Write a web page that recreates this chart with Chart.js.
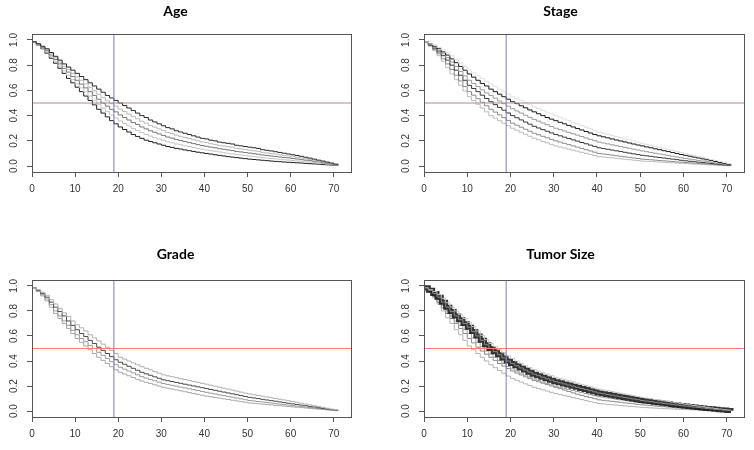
<!DOCTYPE html>
<html>
<head>
<meta charset="utf-8">
<script src="https://cdn.jsdelivr.net/npm/chart.js@4.4.0/dist/chart.umd.min.js"></script>
<style>
  body { margin: 0; background: #fff; }
  #wrap { position: relative; width: 754px; height: 450px; }
  canvas { position: absolute; }
</style>
</head>
<body>
<div id="wrap">
  <canvas id="chartAge" width="377" height="225" style="left:0;top:0;width:377px;height:225px"></canvas>
  <canvas id="chartStage" width="377" height="225" style="left:377px;top:0;width:377px;height:225px"></canvas>
  <canvas id="chartGrade" width="377" height="225" style="left:0;top:225px;width:377px;height:225px"></canvas>
  <canvas id="chartTumor" width="377" height="225" style="left:377px;top:225px;width:377px;height:225px"></canvas>
</div>
<script>
// time points (step positions) and axis ticks
var times = [0,1,2,3,4,5,6,7,8,9,10,11,12,13,14,15,16,17,18,19,20,21,22,23,24,25,26,27,28,29,30,31,32,33,34,35,
  36,37,38,39,40,41,42,43,44,45,46,47,48,49,50,51,52,53,54,55,56,57,58,59,60,61,62,63,64,65,66,67,68,69,70,71];
var xTicks = [0, 10, 20, 30, 40, 50, 60, 70];
var yTicks = [0, 0.2, 0.4, 0.6, 0.8, 1.0];
var medianLevel = 0.5;
var markTime = 19;

// Age
var age1 = [.985,.97,.95,.93,.90,.87,.84,.81,.785,.76,.735,.71,.685,.66,.635,.61,.585,.56,.54,.52,
  .50,.48,.46,.44,.42,.40,.385,.365,.35,.335,.32,.305,.295,.28,.27,.26,.25,.24,.23,.22,
  .215,.205,.20,.19,.185,.18,.175,.165,.16,.155,.15,.145,.14,.13,.125,.12,.114,.108,.102,.096,
  .09,.084,.077,.07,.063,.055,.047,.04,.032,.024,.015,.01];
var age2 = [.985,.967,.945,.922,.89,.857,.825,.792,.765,.735,.707,.68,.652,.625,.597,.57,.542,.517,.495,.475,
  .452,.432,.412,.392,.375,.355,.34,.322,.309,.295,.281,.267,.258,.245,.236,.227,.218,.209,.20,.191,
  .186,.177,.172,.164,.159,.154,.149,.14,.136,.131,.126,.121,.117,.109,.104,.10,.095,.09,.085,.08,
  .075,.07,.064,.058,.053,.047,.04,.034,.027,.02,.013,.008];
var age3 = [.985,.965,.94,.915,.88,.845,.81,.775,.745,.71,.68,.65,.62,.59,.56,.53,.50,.475,.45,.43,
  .405,.385,.365,.345,.33,.31,.295,.28,.268,.255,.243,.23,.222,.21,.203,.194,.186,.178,.17,.163,
  .157,.15,.145,.138,.133,.128,.123,.116,.112,.107,.103,.098,.094,.088,.084,.08,.076,.072,.068,.065,
  .06,.056,.051,.047,.043,.038,.033,.027,.022,.016,.01,.007];
var age4 = [.985,.962,.935,.905,.868,.83,.792,.755,.72,.685,.652,.62,.588,.555,.522,.49,.46,.432,.405,.382,
  .358,.338,.318,.298,.282,.265,.25,.238,.226,.215,.204,.192,.185,.175,.169,.161,.154,.147,.14,.134,
  .128,.122,.118,.112,.106,.101,.097,.092,.088,.083,.079,.075,.072,.067,.064,.06,.057,.054,.05,.048,
  .044,.041,.038,.034,.031,.028,.024,.02,.016,.012,.008,.006];
var age5 = [.985,.96,.93,.895,.855,.815,.775,.735,.695,.66,.625,.59,.555,.52,.485,.45,.42,.39,.36,.335,
  .31,.29,.27,.25,.235,.22,.205,.195,.185,.175,.165,.155,.148,.14,.135,.128,.122,.116,.11,.105,
  .10,.095,.09,.085,.08,.075,.071,.067,.063,.059,.055,.052,.049,.046,.043,.04,.037,.035,.032,.03,
  .028,.026,.024,.021,.019,.017,.015,.012,.01,.008,.006,.004];

// Stage
var stage0 = [.985,.975,.96,.94,.92,.90,.875,.845,.815,.79,.76,.738,.716,.694,.672,.65,.63,.61,.59,.57,
  .55,.534,.518,.502,.486,.47,.456,.442,.428,.414,.40,.387,.374,.361,.348,.335,.322,.309,.296,.283,
  .27,.261,.252,.243,.234,.225,.216,.207,.198,.189,.18,.172,.164,.156,.148,.14,.132,.124,.116,.108,
  .10,.092,.084,.076,.068,.06,.052,.044,.036,.028,.02,.012];
var stage1 = [.985,.97,.95,.93,.905,.88,.85,.82,.79,.76,.73,.705,.68,.655,.635,.61,.59,.57,.55,.53,
  .51,.495,.478,.462,.445,.43,.415,.40,.385,.372,.36,.347,.335,.322,.31,.298,.286,.274,.262,.25,
  .24,.232,.224,.215,.207,.199,.191,.183,.175,.167,.16,.152,.145,.137,.13,.122,.115,.107,.10,.092,
  .085,.078,.071,.064,.057,.05,.043,.036,.029,.022,.015,.01];
var stage2 = [.985,.965,.94,.915,.89,.86,.825,.79,.75,.715,.68,.655,.63,.605,.58,.56,.538,.516,.495,.475,
  .455,.437,.42,.403,.386,.37,.356,.342,.328,.314,.30,.289,.278,.267,.256,.245,.234,.223,.212,.201,
  .19,.183,.176,.169,.162,.155,.148,.141,.134,.127,.12,.114,.108,.102,.096,.09,.084,.078,.072,.066,
  .06,.055,.05,.045,.04,.035,.03,.025,.02,.015,.01,.007];
var stage3 = [.985,.96,.935,.905,.875,.84,.80,.76,.72,.68,.64,.615,.59,.562,.536,.51,.487,.465,.443,.421,
  .40,.383,.366,.349,.332,.315,.302,.289,.276,.263,.25,.24,.229,.219,.208,.198,.187,.177,.166,.156,
  .145,.139,.133,.127,.121,.115,.109,.103,.097,.091,.085,.081,.077,.072,.068,.064,.059,.055,.051,.046,
  .042,.038,.035,.031,.028,.024,.021,.017,.014,.01,.007,.005];
var stage4 = [.985,.955,.925,.89,.85,.81,.765,.72,.675,.63,.59,.562,.534,.506,.478,.45,.428,.406,.384,.362,
  .34,.324,.308,.292,.276,.26,.248,.236,.224,.212,.20,.19,.18,.17,.16,.15,.14,.13,.12,.11,
  .10,.096,.091,.087,.082,.078,.073,.069,.064,.06,.055,.052,.05,.047,.044,.042,.039,.036,.033,.031,
  .028,.026,.023,.021,.018,.016,.013,.011,.009,.006,.004,.003];
var stage5 = [.985,.95,.915,.875,.83,.78,.73,.685,.64,.595,.55,.52,.49,.46,.43,.40,.38,.36,.34,.32,
  .30,.284,.268,.252,.236,.22,.208,.196,.184,.172,.16,.151,.143,.134,.126,.118,.109,.101,.092,.084,
  .075,.072,.068,.065,.061,.058,.054,.051,.047,.044,.04,.038,.036,.034,.032,.03,.028,.026,.024,.022,
  .02,.018,.016,.015,.013,.011,.01,.008,.006,.005,.003,.002];

// Grade
var grade1 = [.985,.97,.95,.925,.89,.855,.82,.785,.755,.72,.69,.665,.64,.61,.585,.56,.535,.51,.485,.46,
  .43,.415,.40,.385,.37,.355,.342,.329,.316,.303,.29,.282,.275,.267,.259,.252,.245,.237,.23,.222,
  .215,.207,.199,.191,.183,.176,.168,.16,.152,.144,.137,.131,.125,.119,.113,.107,.101,.095,.089,.083,
  .077,.07,.063,.056,.05,.043,.036,.03,.023,.016,.01,.006];
var grade2 = [.985,.965,.94,.91,.87,.83,.795,.76,.72,.685,.65,.62,.595,.565,.54,.51,.485,.46,.435,.41,
  .39,.374,.358,.342,.326,.31,.298,.286,.274,.262,.25,.243,.236,.229,.222,.215,.208,.201,.194,.187,
  .18,.173,.166,.159,.152,.145,.138,.131,.124,.117,.11,.105,.10,.094,.089,.084,.079,.074,.068,.063,
  .058,.053,.048,.043,.038,.033,.027,.022,.017,.012,.007,.005];
var grade3 = [.985,.96,.93,.895,.85,.80,.76,.72,.685,.645,.61,.58,.555,.525,.50,.47,.445,.42,.395,.37,
  .35,.335,.32,.305,.29,.275,.264,.253,.242,.231,.22,.213,.206,.199,.192,.185,.178,.171,.164,.157,
  .15,.143,.137,.13,.124,.117,.111,.104,.098,.091,.085,.081,.077,.073,.069,.065,.06,.056,.052,.048,
  .044,.04,.036,.032,.028,.024,.021,.017,.013,.009,.005,.004];
var grade4 = [.985,.955,.92,.88,.83,.78,.74,.70,.66,.62,.58,.55,.52,.49,.46,.43,.405,.38,.355,.33,
  .31,.296,.282,.268,.254,.24,.23,.22,.21,.20,.19,.183,.176,.169,.162,.155,.148,.141,.134,.127,
  .12,.115,.109,.104,.098,.093,.087,.082,.076,.071,.065,.062,.059,.056,.053,.05,.046,.043,.04,.037,
  .034,.031,.028,.025,.022,.019,.016,.013,.01,.007,.004,.003];

// Tumor Size
var tumorTop = [.985,.97,.955,.93,.90,.865,.832,.80,.77,.74,.71,.675,.64,.605,.57,.54,.515,.49,.465,.44,
  .42,.40,.382,.365,.348,.332,.319,.307,.295,.283,.27,.26,.251,.242,.233,.223,.213,.204,.195,.185,
  .176,.169,.163,.156,.15,.143,.136,.13,.123,.117,.11,.104,.099,.093,.088,.082,.077,.071,.066,.06,
  .055,.05,.045,.04,.035,.03,.025,.02,.016,.012,.008,.005];
var tumorBand = [.985,.965,.94,.91,.87,.83,.795,.76,.73,.70,.67,.635,.60,.565,.53,.50,.475,.45,.425,.40,
  .38,.362,.345,.328,.311,.295,.283,.271,.259,.247,.235,.226,.217,.208,.199,.19,.181,.172,.163,.154,
  .145,.139,.133,.127,.121,.115,.109,.103,.097,.091,.085,.08,.076,.071,.067,.062,.058,.053,.049,.044,
  .04,.036,.032,.029,.025,.021,.018,.014,.011,.008,.005,.003];
var tumorMid = [.985,.955,.925,.89,.845,.80,.76,.72,.685,.65,.62,.585,.55,.515,.48,.455,.43,.405,.38,.357,
  .337,.32,.303,.287,.271,.256,.244,.232,.22,.209,.198,.19,.181,.173,.164,.156,.148,.14,.131,.123,
  .115,.11,.105,.10,.095,.09,.085,.08,.075,.07,.065,.061,.058,.054,.051,.047,.044,.04,.037,.034,
  .03,.027,.024,.021,.018,.015,.013,.01,.008,.006,.004,.002];
var tumorLow1 = [.985,.955,.915,.87,.825,.78,.74,.70,.66,.62,.58,.545,.51,.48,.455,.43,.405,.38,.36,.34,
  .32,.304,.289,.274,.259,.245,.234,.223,.212,.201,.19,.179,.168,.157,.146,.135,.126,.117,.108,.099,
  .09,.086,.082,.078,.074,.07,.066,.062,.058,.054,.05,.047,.044,.041,.038,.035,.032,.029,.026,.023,
  .02,.018,.016,.014,.012,.01,.009,.007,.006,.005,.003,.002];
var tumorLow2 = [.985,.95,.905,.855,.80,.745,.70,.65,.61,.565,.52,.49,.46,.43,.40,.37,.347,.324,.302,.28,
  .26,.246,.232,.218,.204,.19,.18,.17,.16,.15,.14,.132,.124,.116,.108,.10,.092,.084,.076,.068,
  .06,.057,.054,.051,.048,.045,.042,.039,.036,.033,.03,.028,.026,.024,.022,.02,.019,.017,.015,.014,
  .012,.011,.01,.009,.008,.007,.006,.005,.004,.003,.002,.002];

var panels = [
  { id: 'chartAge', title: 'Age', hColor: '#b08890', yWidth: 32, rightPad: 26, titleTop: 2.6, titleBottom: 14.6, xHeight: 53,
    curves: [
      { values: age1, color: '#2a2a2a' },
      { values: age2, color: '#b8b8b8' },
      { values: age3, color: '#777' },
      { values: age4, color: '#c4c4c4' },
      { values: age5, color: '#1e1e1e' }
    ] },
  { id: 'chartStage', title: 'Stage', hColor: '#b08890', yWidth: 47, rightPad: 10, titleTop: 2.6, titleBottom: 14.6, xHeight: 53,
    curves: [
      { values: stage0, color: '#e0e0e0' },
      { values: stage1, color: '#1a1a1a' },
      { values: stage2, color: '#9a9a9a' },
      { values: stage3, color: '#3a3a3a' },
      { values: stage4, color: '#8c8c8c' },
      { values: stage5, color: '#bcbcbc' }
    ] },
  { id: 'chartGrade', title: 'Grade', hColor: '#ff7a7a', yWidth: 32, rightPad: 26, titleTop: 20.6, titleBottom: 17.6, xHeight: 33,
    curves: [
      { values: grade1, color: '#b0b0b0' },
      { values: grade2, color: '#4a4a4a' },
      { values: grade3, color: '#9a9a9a' },
      { values: grade4, color: '#a8a8a8' }
    ] },
  { id: 'chartTumor', title: 'Tumor Size', hColor: '#ff7a7a', yWidth: 47, rightPad: 10, titleTop: 20.6, titleBottom: 17.6, xHeight: 33,
    curves: [
      { values: tumorBand, color: '#8a8a8a' },
      { values: tumorTop, color: '#c8c8c8' },
      { values: tumorBand, color: 'rgba(15,15,15,0.85)', width: 5 },
      { values: tumorMid, color: '#a0a0a0' },
      { values: tumorLow1, color: '#8a8a8a' },
      { values: tumorLow2, color: '#b4b4b4' }
    ] }
];

// box round the plot area, like R's box()
var boxPlugin = {
  id: 'plotBox',
  afterDraw: function(chart) {
    var a = chart.chartArea, ctx = chart.ctx;
    ctx.save();
    ctx.strokeStyle = '#555';
    ctx.lineWidth = 1;
    ctx.strokeRect(Math.round(a.left) + 0.5, Math.round(a.top) + 0.5, Math.round(a.right - a.left), Math.round(a.bottom - a.top));
    ctx.restore();
  }
};

function toPoints(values) {
  return values.map(function(v, i) { return { x: times[i], y: v }; });
}

function makePanel(p) {
  var datasets = [
    { data: [{ x: markTime, y: -0.2 }, { x: markTime, y: 1.2 }], borderColor: '#8080b4', borderWidth: 1, pointRadius: 0 },
    { data: [{ x: 0, y: medianLevel }, { x: 80, y: medianLevel }], borderColor: p.hColor, borderWidth: 1, pointRadius: 0 }
  ];
  p.curves.forEach(function(c) {
    datasets.push({
      data: toPoints(c.values),
      borderColor: c.color,
      borderWidth: c.width || 1,
      stepped: 'before',
      pointRadius: 0,
      fill: false
    });
  });

  var tickFont = { family: 'Liberation Sans', size: 10 };
  new Chart(document.getElementById(p.id), {
    type: 'line',
    data: { datasets: datasets },
    plugins: [boxPlugin],
    options: {
      responsive: false,
      animation: false,
      devicePixelRatio: 1,
      layout: { padding: { left: 0, right: p.rightPad, top: 0, bottom: 0 }, autoPadding: false },
      plugins: {
        legend: { display: false },
        tooltip: { enabled: false },
        title: {
          display: true,
          text: p.title,
          color: '#000',
          font: { family: 'Lato', size: 14, weight: 'bold' },
          padding: { top: p.titleTop, bottom: p.titleBottom }
        }
      },
      scales: {
        x: {
          type: 'linear',
          min: 0,
          max: 74,
          afterBuildTicks: function(s) { s.ticks = xTicks.map(function(v) { return { value: v }; }); },
          afterFit: function(s) { s.height = p.xHeight; },
          grid: { drawOnChartArea: false, tickLength: 5, color: '#555' },
          border: { color: '#555' },
          ticks: { font: tickFont, color: '#333', padding: 6, maxRotation: 0 }
        },
        y: {
          type: 'linear',
          min: -0.047,
          max: 1.047,
          afterBuildTicks: function(s) { s.ticks = yTicks.map(function(v) { return { value: v }; }); },
          afterFit: function(s) { s.width = p.yWidth; },
          grid: { drawOnChartArea: false, tickLength: 5, color: '#555' },
          border: { color: '#555' },
          ticks: {
            font: tickFont, color: '#333', padding: 6,
            minRotation: 90, maxRotation: 90, crossAlign: 'center',
            callback: function(v) { return v.toFixed(1); }
          }
        }
      }
    }
  });
}

panels.forEach(makePanel);
</script>
</body>
</html>
